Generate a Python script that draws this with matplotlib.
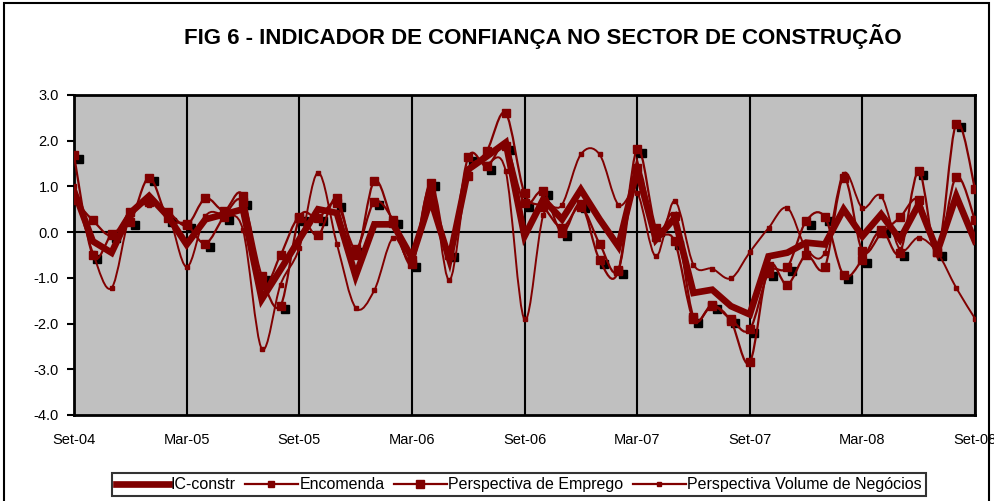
import matplotlib

matplotlib.use("Agg")
import matplotlib.pyplot as plt
from matplotlib.lines import Line2D
from matplotlib.patches import PathPatch, Rectangle
from matplotlib.path import Path
from matplotlib.transforms import ScaledTranslation

plt.rcParams["font.family"] = ["Liberation Sans", "DejaVu Sans"]

TITLE = "FIG 6 - INDICADOR DE CONFIANÇA NO SECTOR DE CONSTRUÇÃO"
TICK_POS = [0, 6, 12, 18, 24, 30, 36, 42, 48]
TICK_LABELS = ["Set-04", "Mar-05", "Set-05", "Mar-06", "Set-06", "Mar-07", "Set-07", "Mar-08", "Set-08"]

# monthly values, Set-04 .. Set-08
ic_constr = [0.9, -0.2, -0.45, 0.42, 0.79, 0.35, -0.27, 0.28, 0.39, 0.5,
             -1.47, -0.82, -0.16, 0.5, 0.42, -0.96, 0.17, 0.17, -0.56, 0.72,
             -0.6, 1.37, 1.66, 1.96, -0.09, 0.72, 0.28, 0.93, 0.28, -0.31,
             1.37, -0.16, 0.31, -1.33, -1.26, -1.62, -1.8, -0.53, -0.45, -0.23,
             -0.27, 0.5, -0.09, 0.39, -0.16, 0.61, -0.42, 0.79, -0.2]
encomenda = [1.68, -0.51, -0.05, 0.23, 1.19, 0.3, 0.17, -0.25, 0.34, 0.66,
             -0.96, -1.61, 0.31, 0.31, 0.63, -0.36, 0.66, 0.26, -0.69, 1.08,
             -0.47, 1.64, 1.44, 1.88, 0.63, 0.89, -0.01, 0.61, -0.61, -0.85,
             1.81, 0.09, -0.2, -1.91, -1.61, -1.91, -2.13, -0.89, -0.77, 0.24,
             0.33, -0.94, -0.6, 0.05, -0.45, 1.33, -0.44, 2.37, 0.95]
emprego = [0.71, 0.26, -0.07, 0.45, 0.65, 0.45, 0.15, 0.74, 0.47, 0.8,
           -1.15, -0.5, 0.33, -0.07, 0.75, -0.5, 1.12, 0.2, -0.62, 0.9,
           -0.5, 1.23, 1.78, 2.6, 0.85, 0.55, 0.1, 0.55, -0.25, -0.82,
           1.4, -0.1, 0.35, -1.85, -1.6, -1.95, -2.85, -0.75, -1.15, -0.5,
           -0.77, 1.19, -0.41, -0.03, 0.32, 0.71, -0.44, 1.21, 0.26]
volume = [1.0, -0.45, -1.22, 0.39, 0.6, 0.4, -0.76, 0.35, 0.35, 0.05,
          -2.55, -1.15, -0.35, 1.3, -0.25, -1.65, -1.27, -0.12, -0.6, 1.0,
          -1.05, 1.3, 1.5, 1.33, -1.91, 0.37, 0.6, 1.7, 1.7, 0.6,
          0.86, -0.53, 0.68, -0.71, -0.8, -1.01, -0.44, 0.09, 0.53, -0.35,
          -0.45, 1.28, 0.53, 0.79, -0.38, -0.12, -0.45, -1.22, -1.89]

RED = "#800000"


def smooth_path(ys):
    # Excel-style smoothed line: bezier through the points
    xs = list(range(len(ys)))
    verts = [(xs[0], ys[0])]
    codes = [Path.MOVETO]
    n = len(ys)
    for i in range(n - 1):
        x0, y0 = (xs[i - 1], ys[i - 1]) if i > 0 else (xs[i], ys[i])
        x1, y1 = xs[i], ys[i]
        x2, y2 = xs[i + 1], ys[i + 1]
        x3, y3 = (xs[i + 2], ys[i + 2]) if i + 2 < n else (x2, y2)
        verts += [(x1 + (x2 - x0) / 6, y1 + (y2 - y0) / 6),
                  (x2 - (x3 - x1) / 6, y2 - (y3 - y1) / 6),
                  (x2, y2)]
        codes += [Path.CURVE4] * 3
    return Path(verts, codes)


fig = plt.figure(figsize=(9.95, 5.01), dpi=100)
fig.patches.append(Rectangle((0.004, -0.01), 0.99, 1.004, transform=fig.transFigure,
                             fill=False, edgecolor="black", linewidth=1.5))
ax = fig.add_axes([0.0744, 0.1717, 0.9055, 0.6387])
ax.set_facecolor("#c0c0c0")

x = list(range(len(ic_constr)))
shadow = ax.transData + ScaledTranslation(0.045, -0.035, fig.dpi_scale_trans)
ax.plot(x, encomenda, ls="none", marker="s", ms=5.5, color="black", transform=shadow, zorder=2)

for values, lw in [(encomenda, 1.6), (emprego, 1.6), (volume, 1.4)]:
    ax.add_patch(PathPatch(smooth_path(values), fill=False, edgecolor=RED, lw=lw, zorder=3))
ax.plot(x, ic_constr, color=RED, lw=4.8, zorder=4, solid_joinstyle="miter")
ax.plot(x, encomenda, ls="none", marker="s", ms=5.5, color=RED, zorder=5)
ax.plot(x, emprego, ls="none", marker="s", ms=5.5, color=RED, zorder=5)
ax.plot(x, volume, ls="none", marker="s", ms=3, color=RED, zorder=5)

ax.axhline(0, color="black", lw=1.5, zorder=1)
ax.set_xlim(0, 48)
ax.set_ylim(-4, 3)
ax.set_xticks(TICK_POS)
ax.set_xticklabels(TICK_LABELS)
ax.set_yticks([3, 2, 1, 0, -1, -2, -3, -4])
ax.set_yticklabels([f"{v:.1f}" for v in [3, 2, 1, 0, -1, -2, -3, -4]])
ax.grid(axis="x", color="black", lw=1.5, zorder=1)
ax.set_axisbelow(True)
ax.tick_params(axis="x", length=0, pad=13, labelsize=10.5)
ax.tick_params(axis="y", direction="out", length=5, width=1.5, pad=6, labelsize=10.5)
for spine in ax.spines.values():
    spine.set_linewidth(2)
    spine.set_color("black")

fig.text(0.546, 0.927, TITLE, ha="center", va="center", fontsize=16, fontweight="bold")

handles = [
    Line2D([], [], color=RED, lw=4.8),
    Line2D([], [], color=RED, lw=1.6, marker="s", ms=5),
    Line2D([], [], color=RED, lw=1.6, marker="s", ms=5.5),
    Line2D([], [], color=RED, lw=1.6, marker="s", ms=3),
]
labels = ["IC-constr", "Encomenda", "Perspectiva de Emprego", "Perspectiva Volume de Negócios"]
legend = fig.legend(handles, labels, loc="center", bbox_to_anchor=(0.5216, 0.032), ncol=4,
                    fontsize=11.5, handlelength=3.3, handletextpad=0.1, columnspacing=0.6,
                    frameon=True, fancybox=False, borderpad=0.25)
legend.get_frame().set_edgecolor("black")
legend.get_frame().set_linewidth(1.5)

fig.savefig("out.png", dpi=100)
